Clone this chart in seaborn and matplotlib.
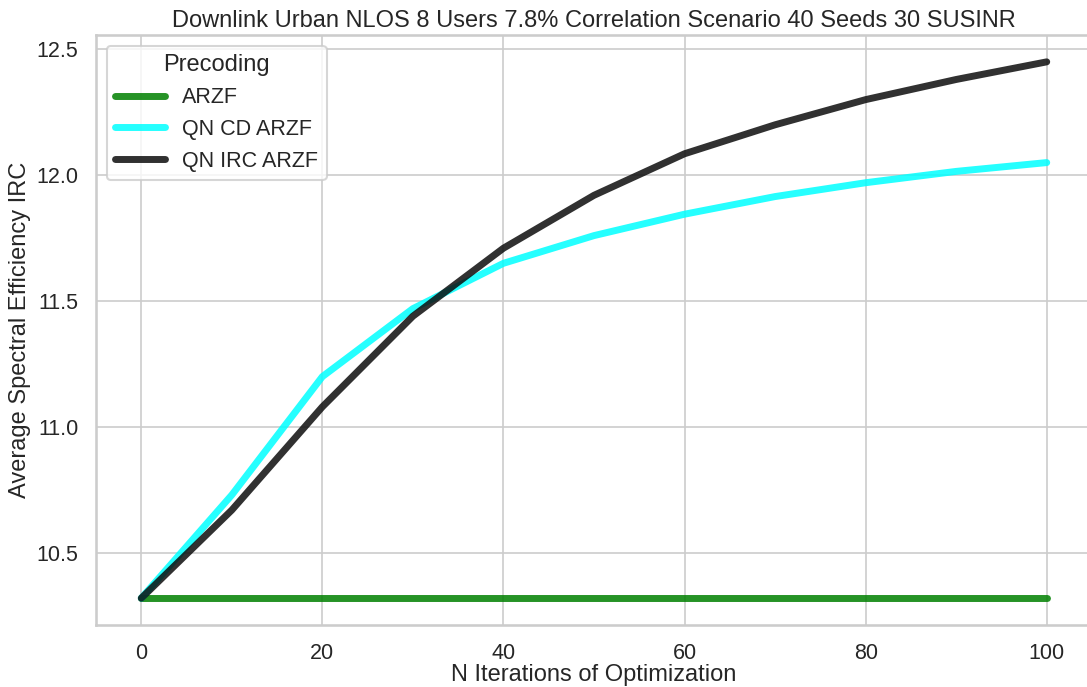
import numpy as np
import pandas as pd
import matplotlib
matplotlib.use("Agg")
import matplotlib.pyplot as plt
import seaborn as sns

# --- Data ---
ITERATIONS = [0, 10, 20, 30, 40, 50, 60, 70, 80, 90, 100]
ARZF = [10.32, 10.32, 10.32, 10.32, 10.32, 10.32, 10.32, 10.32, 10.32, 10.32, 10.32]
QN_CD_ARZF = [10.32, 10.73, 11.20, 11.47, 11.65, 11.76, 11.845, 11.915, 11.97, 12.015, 12.05]
QN_IRC_ARZF = [10.32, 10.67, 11.08, 11.44, 11.71, 11.92, 12.085, 12.20, 12.30, 12.38, 12.45]

SERIES = {
    "ARZF": ARZF,
    "QN CD ARZF": QN_CD_ARZF,
    "QN IRC ARZF": QN_IRC_ARZF,
}
COLORS = ["green", "cyan", "#0d0d0d"]

TITLE = "Downlink Urban NLOS 8 Users 7.8% Correlation Scenario 40 Seeds 30 SUSINR"

# long-form table for seaborn
rows = []
for name, vals in SERIES.items():
    for it, v in zip(ITERATIONS, vals):
        rows.append({"N Iterations of Optimization": it,
                     "Average Spectral Efficiency IRC": v,
                     "Precoding": name})
df = pd.DataFrame(rows)

sns.set_theme(style="whitegrid", context="talk",
              rc={"grid.linewidth": 1.2})
plt.rcParams["font.family"] = ["Liberation Sans", "DejaVu Sans"]

fig = plt.figure(figsize=(10.87, 6.87), dpi=100)
# axes run slightly past the right edge, as in the reference
ax = fig.add_axes([0.0883, 0.0902, 0.9163, 0.8588])
sns.lineplot(data=df, x="N Iterations of Optimization",
             y="Average Spectral Efficiency IRC", hue="Precoding",
             palette=COLORS, linewidth=5, alpha=0.85, ax=ax)

ax.set_title(TITLE, fontsize=17)
ax.set_xlabel("N Iterations of Optimization", fontsize=17)
ax.xaxis.set_label_coords(0.5, -0.0655)
ax.set_ylabel("Average Spectral Efficiency IRC", fontsize=17)
ax.tick_params(labelsize=15.5)
ax.tick_params(axis="x", pad=4)
ax.set_yticks([10.5, 11.0, 11.5, 12.0, 12.5])
ax.legend(title="Precoding", loc="upper left", fontsize=15.5,
          title_fontsize=17, handlelength=2.3)

plt.savefig("out.png", dpi=100)
plt.close()
